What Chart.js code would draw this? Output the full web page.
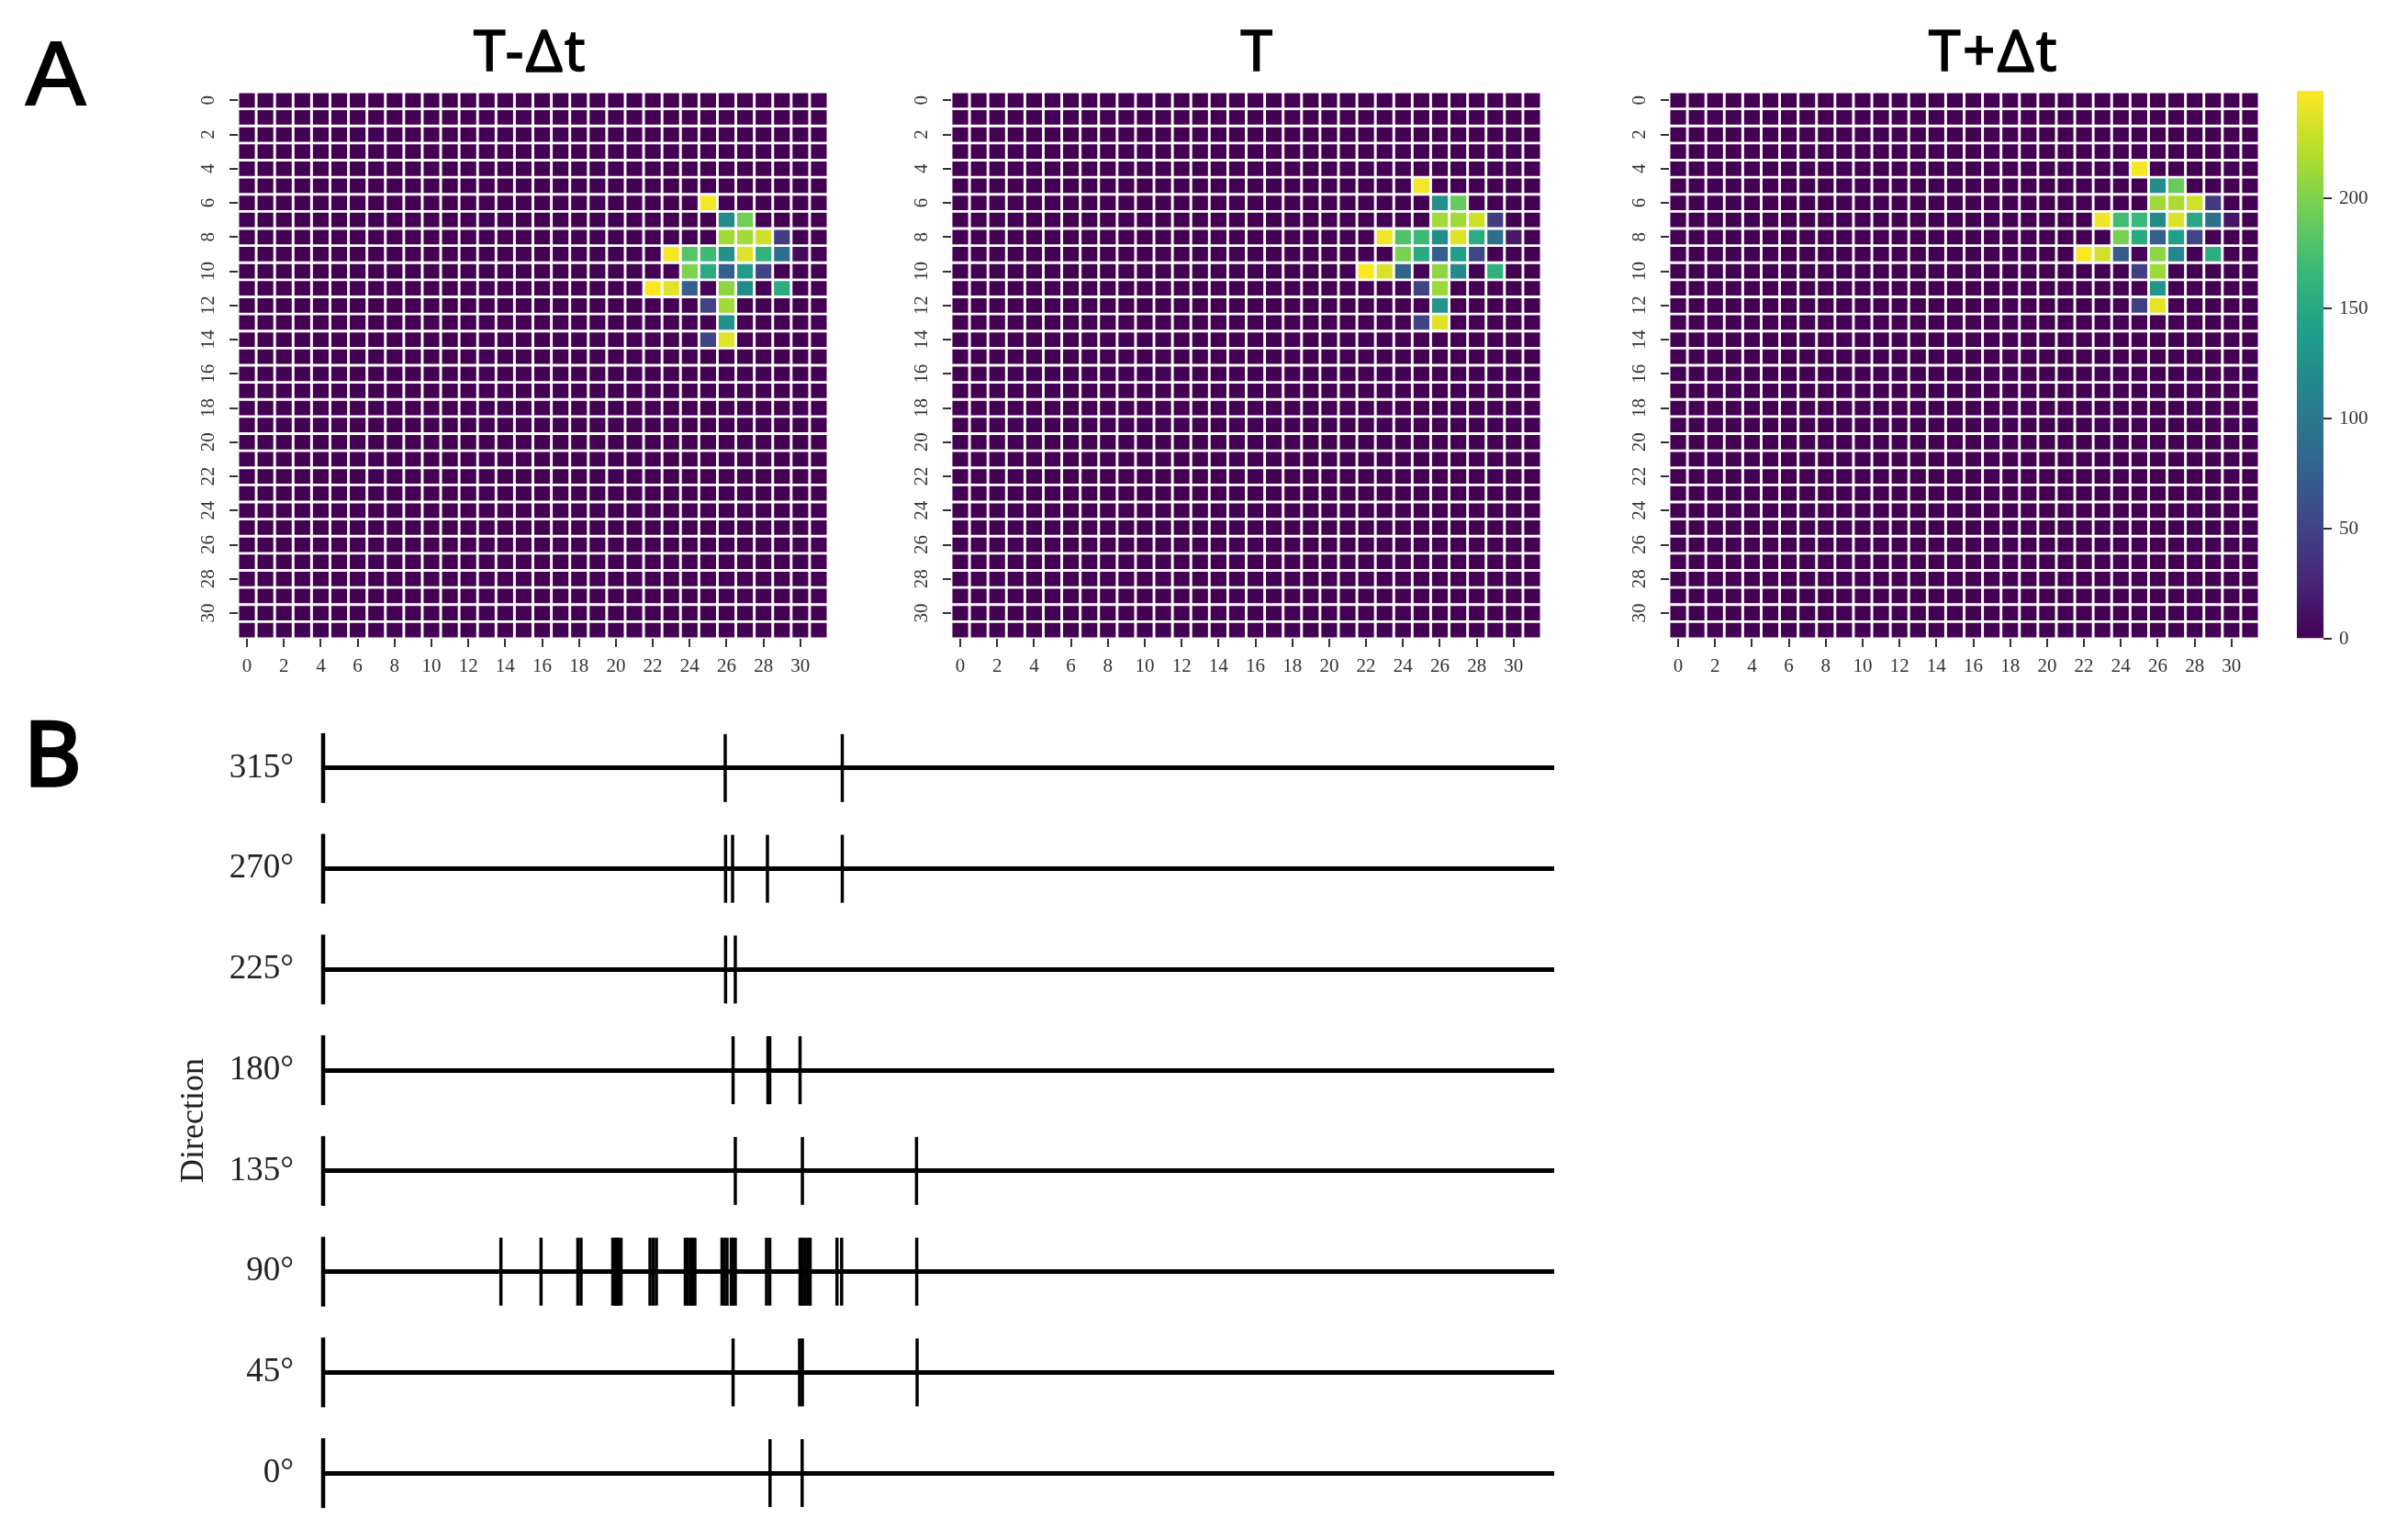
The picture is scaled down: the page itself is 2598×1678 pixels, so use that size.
<!DOCTYPE html>
<html lang="en">
<head>
    <meta charset="UTF-8">
    <title>Heatmaps and spike raster by direction</title>
    <script src="https://cdn.jsdelivr.net/npm/chart.js@4"></script>
    <style>
        html, body { margin: 0; padding: 0; background: #fff; }
        body { position: relative; width: 2598px; height: 1678px; overflow: hidden; }
        canvas { position: absolute; }
        .letter, .panelTitle { position: absolute; line-height: 1; color: #000; white-space: nowrap; }
        .letter { font-family: "Liberation Sans", sans-serif; font-size: 98px; -webkit-text-stroke: 2px #000; }
        .panelTitle { font-family: "Noto Sans", sans-serif; font-size: 62px; letter-spacing: 2.5px; -webkit-text-stroke: 1.6px #000; transform: translateX(-50%); }
    </style>
</head>
<body>
    <div class="letter" style="left:28px;top:31px">A</div>
    <div class="letter" style="left:26px;top:771px;font-family:'Noto Sans';font-size:96px;-webkit-text-stroke:3.5px #000">B</div>
    <div class="panelTitle" style="left:578px;top:22px">T-Δt</div>
    <div class="panelTitle" style="left:1370px;top:22px">T</div>
    <div class="panelTitle" style="left:2172px;top:22px">T+Δt</div>

    <canvas id="heatBefore" width="711" height="676" style="left:199px;top:80px"></canvas>
    <canvas id="heatNow" width="711" height="676" style="left:976px;top:80px"></canvas>
    <canvas id="heatAfter" width="711" height="676" style="left:1758px;top:80px"></canvas>
    <canvas id="colorbar" width="96" height="636" style="left:2502px;top:80px"></canvas>
    <canvas id="raster" width="1513" height="917" style="left:190px;top:762px"></canvas>

    <script>
        const gridColumns = ['0','1','2','3','4','5','6','7','8','9','10','11','12','13','14','15','16','17','18','19','20','21','22','23','24','25','26','27','28','29','30','31'];
        const xTickLabels = ['0','2','4','6','8','10','12','14','16','18','20','22','24','26','28','30'];
        const yTickLabels = ['0','2','4','6','8','10','12','14','16','18','20','22','24','26','28','30'];
        const colorbarMax = 249;
        const colorbarTicks = [0, 50, 100, 150, 200];

        // non-zero cells only: [row, column, value]
        const cellsBefore = [
            [6,25,246],
            [7,26,120],[7,27,195],
            [8,26,214],[8,27,214],[8,28,231],[8,29,45],
            [9,23,246],[9,24,182],[9,25,170],[9,26,125],[9,27,237],[9,28,160],[9,29,92],[9,30,8],
            [10,24,200],[10,25,152],[10,26,75],[10,27,137],[10,28,50],
            [11,22,249],[11,23,238],[11,24,75],[11,25,3],[11,26,207],[11,27,120],[11,29,155],
            [12,25,50],[12,26,214],
            [13,26,125],
            [14,25,50],[14,26,238]
        ];
        const cellsNow = [
            [5,25,246],
            [6,26,125],[6,27,190],
            [7,26,214],[7,27,214],[7,28,231],[7,29,45],
            [8,23,244],[8,24,178],[8,25,168],[8,26,122],[8,27,237],[8,28,155],[8,29,90],[8,30,18],
            [9,24,198],[9,25,152],[9,26,75],[9,27,140],[9,28,52],
            [10,22,249],[10,23,236],[10,24,78],[10,25,3],[10,26,207],[10,27,118],[10,29,160],
            [11,25,50],[11,26,212],
            [12,26,128],
            [13,25,50],[13,26,238]
        ];
        const cellsAfter = [
            [4,25,246],
            [5,26,122],[5,27,190],
            [6,26,212],[6,27,218],[6,28,232],[6,29,42],
            [7,23,244],[7,24,172],[7,25,168],[7,26,120],[7,27,236],[7,28,150],[7,29,92],[7,30,14],
            [8,24,198],[8,25,152],[8,26,75],[8,27,140],[8,28,52],
            [9,22,248],[9,23,232],[9,24,70],[9,25,3],[9,26,205],[9,27,115],[9,29,155],
            [10,25,48],[10,26,212],
            [11,26,130],
            [12,25,48],[12,26,240]
        ];

        const viridis = ['#440154','#482878','#3e4989','#31688e','#26828e','#1f9e89','#35b779','#6ece58','#b5de2b','#fde725'];

        // bottom to top
        const directionLabels = ['0°','45°','90°','135°','180°','225°','270°','315°'];
        const spikes0 = [36.30, 38.91];
        const spikes45 = [33.30, 38.70, 38.93, 48.25];
        const spikes90 = [14.44, 17.70, 20.69, 20.95, 23.53, 23.71, 23.86, 24.01, 24.20, 26.55, 26.81, 27.07,
            29.42, 29.60, 29.83, 30.01, 30.20, 32.40, 32.59, 32.81, 33.15, 33.30, 33.48, 36.02, 36.28,
            38.74, 38.93, 39.15, 39.37, 39.56, 41.74, 42.12, 48.22];
        const spikes135 = [33.48, 38.93, 48.20];
        const spikes180 = [33.30, 36.13, 36.28, 38.74];
        const spikes225 = [32.69, 33.48];
        const spikes270 = [32.69, 33.26, 36.09, 42.17];
        const spikes315 = [32.66, 42.17];
        const spikesByDirection = [spikes0, spikes45, spikes90, spikes135, spikes180, spikes225, spikes270, spikes315];

        const hexToRgb = h => [1, 3, 5].map(i => parseInt(h.slice(i, i + 2), 16));

        function viridisColor(value) {
            const t = Math.min(value / colorbarMax, 1) * (viridis.length - 1);
            const i = Math.min(Math.floor(t), viridis.length - 2);
            const a = hexToRgb(viridis[i]), b = hexToRgb(viridis[i + 1]);
            const c = a.map((v, k) => Math.round(v + (b[k] - v) * (t - i)));
            return `rgb(${c[0]},${c[1]},${c[2]})`;
        }

        // scales keep room for half a label past the ends, the plot boxes here are fixed
        function fixSize(scale, size) {
            if (scale.isHorizontal()) scale.height = size;
            else scale.width = size;
            scale.paddingTop = scale.paddingBottom = scale.paddingLeft = scale.paddingRight = 0;
        }

        function heatmap(id, cells) {
            const rows = gridColumns.map(() => gridColumns.map(() => 0));
            cells.forEach(([r, c, v]) => { rows[r][c] = v; });

            new Chart(document.getElementById(id), {
                type: 'bar',
                data: {
                    labels: gridColumns,
                    datasets: rows.map((row, r) => ({
                        data: row.map(() => [r, r + 1]),
                        backgroundColor: row.map(viridisColor),
                        borderColor: '#fff',
                        borderWidth: 1.8,
                        borderSkipped: false,
                        barPercentage: 1,
                        categoryPercentage: 1,
                        grouped: false
                    }))
                },
                options: {
                    responsive: false,
                    animation: false,
                    layout: { autoPadding: false, padding: { top: 20, right: 8 } },
                    plugins: { legend: { display: false }, tooltip: { enabled: false } },
                    scales: {
                        x: {
                            afterBuildTicks: s => { s.ticks = s.ticks.filter(t => xTickLabels.includes(gridColumns[t.value])); },
                            afterFit: s => fixSize(s, 60),
                            border: { display: false },
                            grid: { drawOnChartArea: false, offset: false, tickLength: 9, tickColor: '#333', lineWidth: 2 },
                            ticks: {
                                autoSkip: false, maxRotation: 0, padding: 9, color: '#333',
                                font: { family: 'Liberation Serif', size: 21 }
                            }
                        },
                        y: {
                            min: 0,
                            max: 32,
                            reverse: true,
                            afterBuildTicks: s => { s.ticks = yTickLabels.map(l => ({ value: Number(l) + 0.5 })); },
                            afterFit: s => fixSize(s, 60),
                            border: { display: false },
                            grid: { drawOnChartArea: false, tickLength: 9, tickColor: '#333', lineWidth: 2 },
                            ticks: {
                                minRotation: 90, maxRotation: 90, crossAlign: 'center', padding: 12, color: '#333',
                                font: { family: 'Liberation Serif', size: 21 },
                                callback: v => String(v - 0.5)
                            }
                        }
                    }
                }
            });
        }

        heatmap('heatBefore', cellsBefore);
        heatmap('heatNow', cellsNow);
        heatmap('heatAfter', cellsAfter);

        // Colorbar
        new Chart(document.getElementById('colorbar'), {
            type: 'bar',
            data: {
                labels: [''],
                datasets: [{
                    data: [[0, colorbarMax]],
                    barPercentage: 1,
                    categoryPercentage: 1,
                    backgroundColor: ctx => {
                        const area = ctx.chart.chartArea;
                        if (!area) return viridis[0];
                        const g = ctx.chart.ctx.createLinearGradient(0, area.bottom, 0, area.top);
                        viridis.forEach((c, i) => g.addColorStop(i / (viridis.length - 1), c));
                        return g;
                    }
                }]
            },
            options: {
                responsive: false,
                animation: false,
                layout: { autoPadding: false, padding: { top: 19, bottom: 20 } },
                plugins: { legend: { display: false }, tooltip: { enabled: false } },
                scales: {
                    x: { display: false },
                    y: {
                        position: 'right',
                        min: 0,
                        max: colorbarMax,
                        afterBuildTicks: s => { s.ticks = colorbarTicks.map(v => ({ value: v })); },
                        afterFit: s => fixSize(s, 67),
                        border: { display: false },
                        grid: { drawOnChartArea: false, tickLength: 9, tickColor: '#333', lineWidth: 2 },
                        ticks: { padding: 8, color: '#333', font: { family: 'Liberation Serif', size: 21 } }
                    }
                }
            }
        });

        // Spike raster
        new Chart(document.getElementById('raster'), {
            type: 'scatter',
            data: {
                datasets: [
                    {
                        data: directionLabels.map((d, i) => ({ x: 0, y: i })),
                        pointStyle: 'line',
                        pointRotation: 90,
                        pointRadius: 38,
                        pointBorderWidth: 4.5,
                        pointBorderColor: '#000',
                        clip: false
                    }
                ].concat(spikesByDirection.map((spikes, i) => ({
                    data: spikes.map(x => ({ x, y: i })),
                    pointStyle: 'line',
                    pointRotation: 90,
                    pointRadius: 37,
                    pointBorderWidth: 3.5,
                    pointBorderColor: '#000',
                    clip: false
                })))
            },
            options: {
                responsive: false,
                animation: false,
                layout: { autoPadding: false, padding: { top: 20, right: 10, bottom: 19 } },
                plugins: { legend: { display: false }, tooltip: { enabled: false } },
                scales: {
                    x: { display: false, min: 0, max: 100 },
                    y: {
                        min: -0.5,
                        max: 7.5,
                        afterBuildTicks: s => { s.ticks = directionLabels.map((d, i) => ({ value: i })); },
                        afterFit: s => fixSize(s, 162),
                        border: { display: false },
                        grid: { drawTicks: false, color: '#000', lineWidth: 5 },
                        title: {
                            display: true, text: 'Direction', color: '#222', padding: 0,
                            font: { family: 'Liberation Serif', size: 36 }
                        },
                        ticks: {
                            padding: 32, color: '#222',
                            font: { family: 'Liberation Serif', size: 37 },
                            callback: v => directionLabels[v]
                        }
                    }
                }
            }
        });
    </script>
</body>
</html>
